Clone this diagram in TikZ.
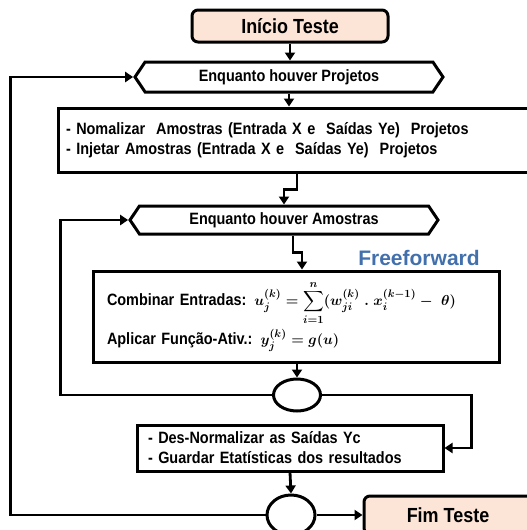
\documentclass[tikz,border=0pt]{standalone}
\usepackage{amsmath}
\usepackage{fontspec}
\setmainfont{Liberation Sans}[FakeStretch=0.88]
\newfontfamily\ffsans{Liberation Sans}
\usepackage{xcolor}
\usepackage{tikz}
\usetikzlibrary{shapes.geometric,shapes.symbols,arrows.meta}
\definecolor{peach}{RGB}{252,228,214}
\definecolor{ffblue}{RGB}{66,112,172}

\begin{document}
\begin{tikzpicture}[x=1pt,y=-1pt,
    startbox/.style={draw, line width=3pt, rounded corners=6pt, fill=peach, inner sep=0pt,
      font=\fontsize{20.4}{24}\selectfont\bfseries},
    loopbox/.style={draw, line width=3pt, signal, signal to=west and east, signal pointer angle=112,
      inner sep=0pt, minimum width=308pt, font=\fontsize{16.4}{20}\selectfont\bfseries},
    procbox/.style={draw, line width=3pt, inner sep=0pt, align=left,
      font=\fontsize{16.4}{20}\selectfont\bfseries},
    joinnode/.style={draw, line width=3pt, ellipse, inner sep=0pt},
    conn/.style={line width=2.8pt, -{Triangle[length=8pt,width=10pt]}}]
  \useasboundingbox (0,0) rectangle (527,530);

  \node[startbox, minimum width=196pt, minimum height=32pt] (inicio) at (290,26) {Início Teste};
  \node[loopbox, minimum height=30pt] (hexproj) at (289,77) {Enquanto houver Projetos};
  \node[procbox, minimum width=477pt, minimum height=64pt, text width=461pt] (box1) at (296.5,140)
    {\baselineskip=25pt - Nomalizar~ Amostras (Entrada X e~ Saídas Ye)~ Projetos\\
     - Injetar Amostras (Entrada X e~ Saídas Ye)~ Projetos};
  \node[loopbox, minimum height=28pt] (hexamos) at (284,220) {Enquanto houver Amostras};
  \node[font=\ffsans\fontsize{21}{24}\selectfont\bfseries, text=ffblue] (ffw) at (419,258) {Freeforward};
  \node[procbox, minimum width=406pt, minimum height=91pt, text width=378pt] (box2) at (296,316.5)
    {\mbox{Combinar Entradas:\hspace{8pt}{\fontsize{15.5}{18}\selectfont$\displaystyle\boldsymbol{u_j^{(k)} = \sum_{i=1}^{n}(w_{ji}^{(k)}\;.\;x_i^{(k-1)} -\;\theta)}$}}\\[3pt]
     \mbox{Aplicar Função-Ativ.:\hspace{8pt}{\fontsize{15.5}{18}\selectfont$\boldsymbol{y_j^{(k)} = g(u)}$}}};
  \node[joinnode, minimum width=47pt, minimum height=32pt] (join1) at (297,395) {};
  \node[procbox, minimum width=306pt, minimum height=46pt, text width=284pt] (box3) at (290,448)
    {\baselineskip=21pt - Des-Normalizar as Saídas Yc\\
     - Guardar Etatísticas dos resultados};
  \node[joinnode, minimum width=48pt, minimum height=40pt] (join2) at (291,515) {};
  \node[startbox, minimum width=168pt, minimum height=38pt] (fim) at (448,515) {Fim Teste};

  \draw[conn] (inicio.south) -- (inicio.south |- hexproj.north);
  \draw[conn] (hexproj.south) -- (hexproj.south |- box1.north);
  \draw[conn] ([xshift=0.5pt]box1.south) -- ++(0,16) -| (hexamos.north);
  \draw[conn] ([xshift=9pt]hexamos.south) -- ++(0,17) -| ([xshift=6pt]box2.north);
  \draw[conn] (box2.south -| join1.north) -- (join1.north);
  \draw[conn] (join1.west) -| ([xshift=-68pt]hexamos.west) -- (hexamos.west);
  \draw[conn] (join1.east) -| ([xshift=27pt]box3.east) -- (box3.east);
  \draw[conn] (box3.south) -- (join2.north);
  \draw[conn] (join2.west) -| ([xshift=-123pt]hexproj.west) -- (hexproj.west);
  \draw[conn] (join2.east) -- (fim.west);
\end{tikzpicture}
\end{document}
